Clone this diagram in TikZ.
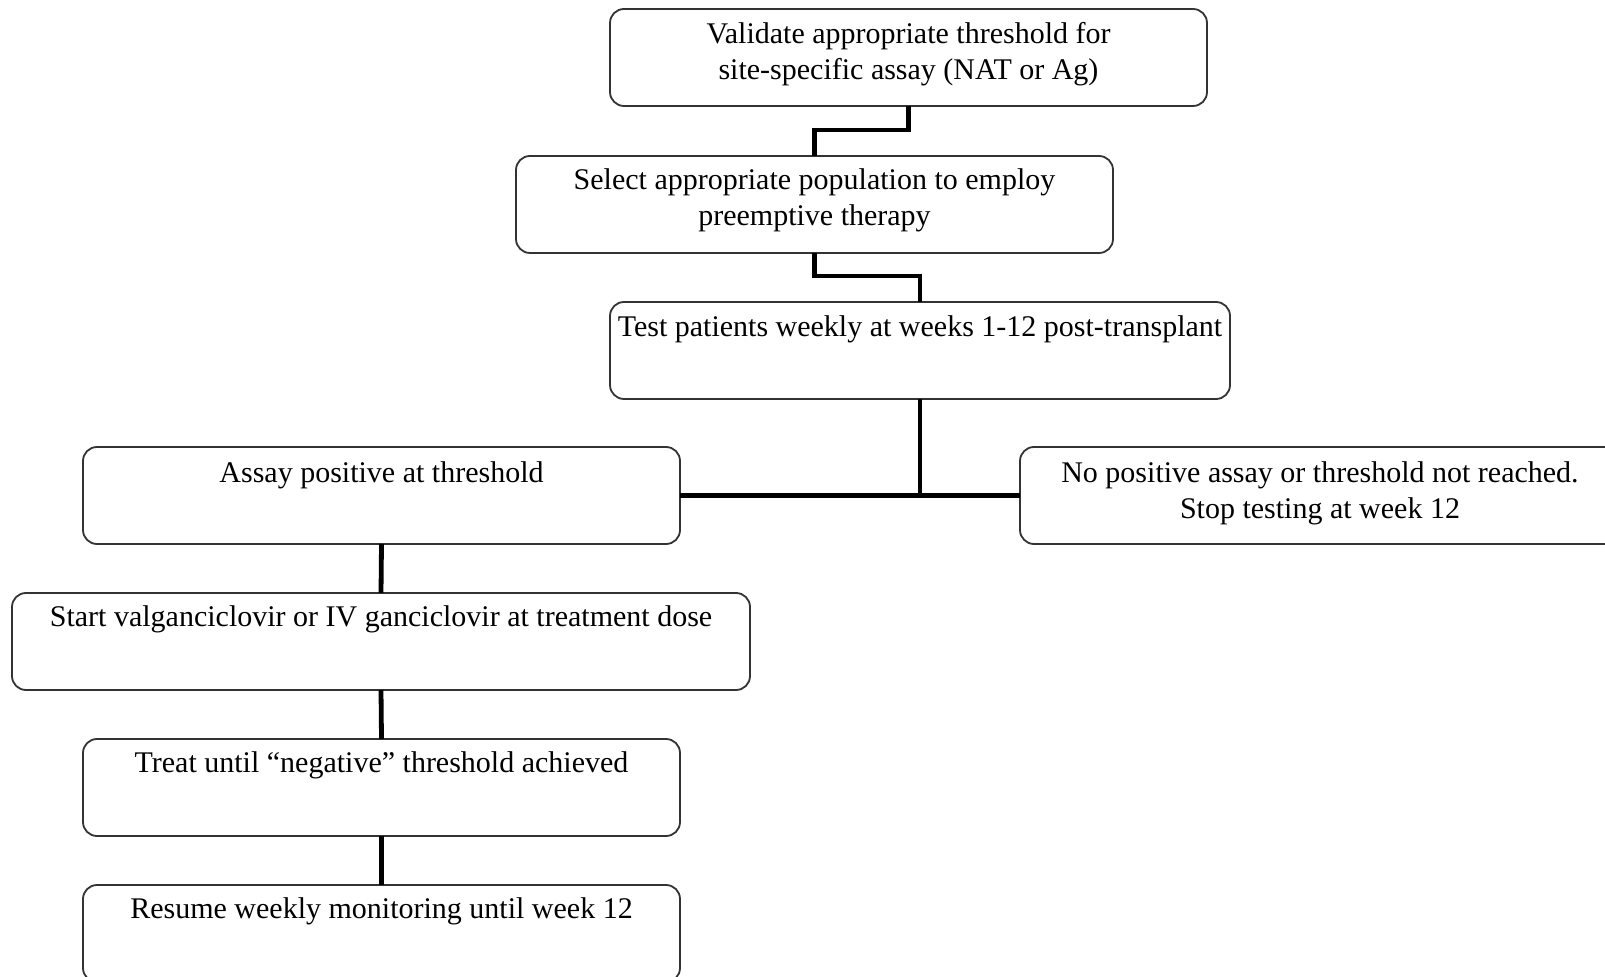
\documentclass[tikz,border=0pt]{standalone}
\usepackage{fontspec}
\setmainfont{Liberation Serif}
\usetikzlibrary{calc}
\begin{document}
\begin{tikzpicture}[x=0.5pt,y=-0.5pt,
  box/.style={draw=black!80, line width=0.9pt, rounded corners=7pt, inner sep=0pt, outer sep=0pt, minimum height=48.5pt},
  txt/.style={inner sep=0pt, align=center, font=\fontsize{15}{18}\selectfont},
  conn/.style={draw=black, line width=2.4pt}]
\useasboundingbox (0,0) rectangle (1605,977);
\clip (0,0) rectangle (1605,977);
% boxes
\node[box, minimum width=298.5pt] (b1) at (908.5,57.5) {};
\node[box, minimum width=298.5pt] (b2) at (814.5,204.5) {};
\node[box, minimum width=310pt] (b3) at (920,350.5) {};
\node[box, minimum width=298.5pt] (b4) at (381.5,495.5) {};
\node[box, minimum width=300pt] (b5) at (1320,495.5) {};
\node[box, minimum width=369pt] (b6) at (381,641.5) {};
\node[box, minimum width=298.5pt] (b7) at (381.5,787.5) {};
\node[box, minimum width=298.5pt] (b8) at (381.5,933.5) {};
% texts
\node[txt] (t1) at ($(b1.north)+(0,45)$) {Validate appropriate threshold for\\site-specific assay (NAT or Ag)};
\node[txt] (t2) at ($(b2.north)+(0,44)$) {Select appropriate population to employ\\preemptive therapy};
\node[txt] (t3) at ($(b3.north)+(0,27)$) {Test patients weekly at weeks 1-12 post-transplant};
\node[txt] (t4) at ($(b4.north)+(0,28)$) {Assay positive at threshold};
\node[txt] (t5) at ($(b5.north)+(0,46)$) {No positive assay or threshold not reached.\\Stop testing at week 12};
\node[txt] (t6) at ($(b6.north)+(0,26)$) {Start valganciclovir or IV ganciclovir at treatment dose};
\node[txt] (t7) at ($(b7.north)+(0,26)$) {Treat until “negative” threshold achieved};
\node[txt] (t8) at ($(b8.north)+(0,26)$) {Resume weekly monitoring until week 12};
% connectors
\draw[conn] (b1.south) -- ++(0,24) -| (b2.north);
\draw[conn] (b2.south) -- ++(0,23) -| (b3.north);
\draw[conn] (b3.south) -- (b3.south |- b4.east);
\draw[conn] (b4.east) -- (b5.west);
\draw[conn] (b4.south) -- (b6.north);
\draw[conn] (b6.south) -- (b7.north);
\draw[conn] (b7.south) -- (b8.north);
\end{tikzpicture}
\end{document}
